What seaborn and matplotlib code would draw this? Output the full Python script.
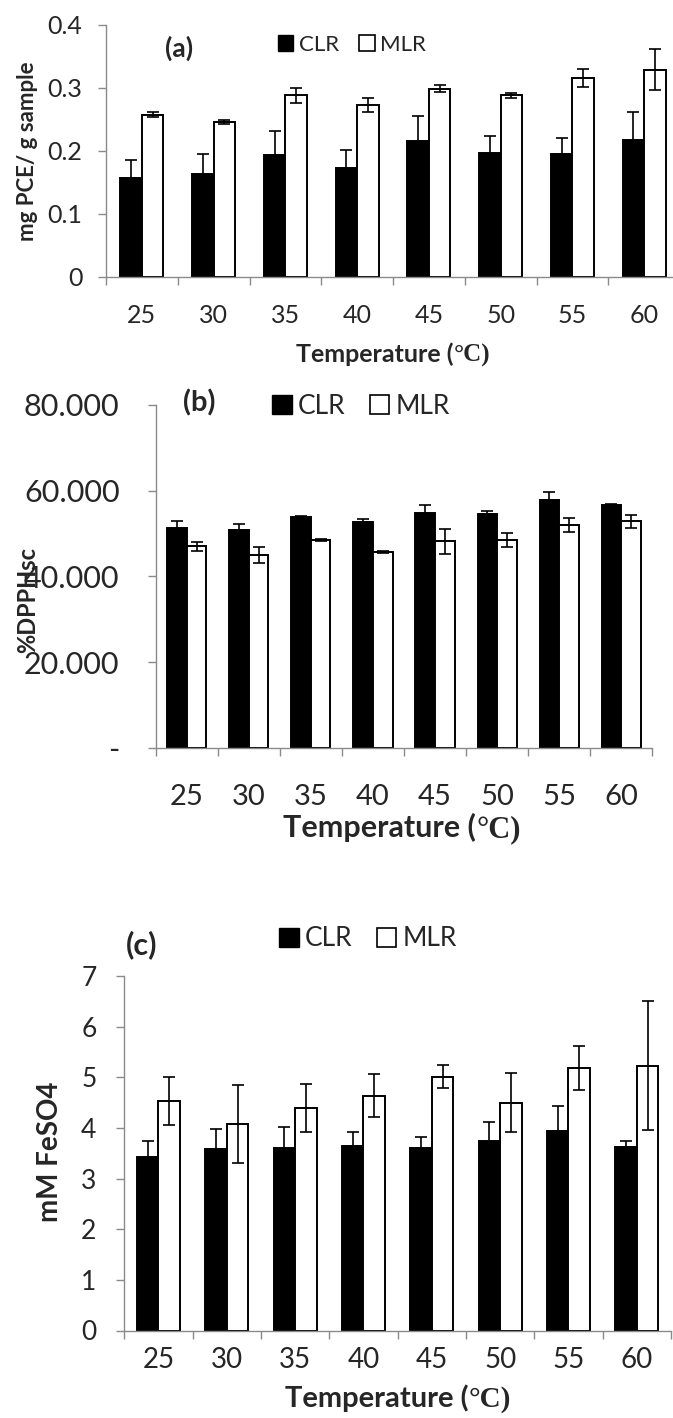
import numpy as np
import pandas as pd
import matplotlib
matplotlib.use("Agg")
import matplotlib.pyplot as plt
from matplotlib.patches import Patch
import seaborn as sns

# ---------------- data ----------------
temps = ["25", "30", "35", "40", "45", "50", "55", "60"]
samples = ["CLR", "MLR"]

# (a) total phenolics, mg PCE / g sample
tpc_clr = [0.157, 0.164, 0.194, 0.172, 0.216, 0.197, 0.195, 0.218]
tpc_clr_err = [0.028, 0.031, 0.038, 0.029, 0.040, 0.026, 0.026, 0.044]
tpc_mlr = [0.257, 0.246, 0.288, 0.273, 0.299, 0.288, 0.316, 0.329]
tpc_mlr_err = [0.004, 0.003, 0.012, 0.011, 0.006, 0.0045, 0.014, 0.033]

# (b) DPPH scavenging, %
dpph_clr = [51.2, 50.8, 53.8, 52.6, 54.9, 54.6, 57.8, 56.7]
dpph_clr_err = [1.8, 1.4, 0.2, 0.9, 1.8, 0.7, 1.8, 0.1]
dpph_mlr = [47.0, 45.0, 48.5, 45.7, 48.2, 48.5, 52.0, 52.9]
dpph_mlr_err = [1.0, 1.95, 0.15, 0.2, 2.95, 1.65, 1.55, 1.55]

# (c) FRAP, mM FeSO4
frap_clr = [3.43, 3.58, 3.61, 3.64, 3.60, 3.75, 3.94, 3.63]
frap_clr_err = [0.32, 0.40, 0.41, 0.28, 0.22, 0.36, 0.49, 0.12]
frap_mlr = [4.53, 4.08, 4.39, 4.64, 5.01, 4.50, 5.18, 5.23]
frap_mlr_err = [0.48, 0.77, 0.47, 0.42, 0.23, 0.58, 0.43, 1.27]

# ---------------- style ----------------
sns.set_style("white")
plt.rcParams["font.family"] = ["Lato", "DejaVu Sans"]

W, H = 673, 1418
fig = plt.figure(figsize=(W / 100, H / 100), dpi=100)
fig.patch.set_facecolor("white")

GREY = "#8a8a8a"
SANS = ["Lato", "DejaVu Sans"]
SERIF = ["Liberation Serif", "DejaVu Serif"]


def px_rect(left, right, top, bottom):
    return [left / W, 1 - bottom / H, (right - left) / W, (bottom - top) / H]


def fx(x):
    return x / W


def fy(y):
    return 1 - y / H


def long_frame(clr, mlr):
    return pd.DataFrame({
        "temp": temps * 2,
        "sample": ["CLR"] * len(temps) + ["MLR"] * len(temps),
        "value": list(clr) + list(mlr),
    })


def panel(rect, clr, clr_err, mlr, mlr_err, ylim, yticks, ylabels,
          ytick_fs, ytick_pad, xtick_fs, xtick_pad, width):
    ax = fig.add_axes(rect)
    df = long_frame(clr, mlr)
    sns.barplot(data=df, x="temp", y="value", hue="sample",
                order=temps, hue_order=samples,
                palette={"CLR": "black", "MLR": "white"},
                edgecolor="black", linewidth=1.4, width=width,
                saturation=1, errorbar=None, legend=False, ax=ax)
    for cont, err in zip(ax.containers, [clr_err, mlr_err]):
        xs = [b.get_x() + b.get_width() / 2 for b in cont]
        ys = [b.get_height() for b in cont]
        ax.errorbar(xs, ys, yerr=err, fmt="none", ecolor="black",
                    elinewidth=1.2, capsize=4, capthick=1.2, zorder=5)
    ax.set_xlim(-0.5, len(temps) - 0.5)
    ax.set_ylim(*ylim)
    ax.set_yticks(yticks)
    ax.set_yticklabels(ylabels, fontsize=ytick_fs)
    ax.set_xticks(range(len(temps)))
    ax.set_xticklabels(temps, fontsize=xtick_fs)
    ax.set_xticks(np.arange(-0.5, len(temps), 1), minor=True)
    ax.tick_params(axis="x", which="major", length=0, pad=xtick_pad)
    ax.tick_params(axis="x", which="minor", length=6, width=1, color=GREY,
                   direction="out", bottom=True)
    ax.tick_params(axis="y", which="major", length=6, width=1, color=GREY,
                   direction="out", left=True, pad=ytick_pad)
    for s in ["top", "right"]:
        ax.spines[s].set_visible(False)
    for s in ["left", "bottom"]:
        ax.spines[s].set_color(GREY)
        ax.spines[s].set_linewidth(1.0)
    ax.set_xlabel("")
    ax.set_ylabel("")
    ax.set_facecolor("white")
    return ax


def temp_label(xc, yc, size):
    t1 = fig.text(0, 0, "Temperature (", fontsize=size, fontweight="bold",
                  family=SANS, va="baseline", ha="left")
    t2 = fig.text(0, 0, "°C)", fontsize=size, fontweight="bold",
                  family=SERIF, va="baseline", ha="left")
    r = fig.canvas.get_renderer()
    w1 = t1.get_window_extent(r).width
    w2 = t2.get_window_extent(r).width
    x0 = xc - (w1 + w2) / 2
    base = yc + size * 100 / 72 * 0.36
    t1.set_position((fx(x0), fy(base)))
    t2.set_position((fx(x0 + w1), fy(base)))


def legend(xc, yc, size, hl):
    handles = [Patch(facecolor="black", edgecolor="black", linewidth=1),
               Patch(facecolor="white", edgecolor="black", linewidth=1.2)]
    fig.legend(handles, samples, loc="center", bbox_to_anchor=(fx(xc), fy(yc)),
               ncol=2, frameon=False, fontsize=size, handlelength=hl,
               handleheight=hl, handletextpad=0.25, columnspacing=0.9,
               borderpad=0, borderaxespad=0)


# ---------------- (a) ----------------
panel(px_rect(106, 680, 25, 276.7), tpc_clr, tpc_clr_err, tpc_mlr, tpc_mlr_err,
      (0, 0.4), [0, 0.1, 0.2, 0.3, 0.4], ["0", "0.1", "0.2", "0.3", "0.4"],
      18, 11, 18, 20, 0.6)
fig.text(fx(27), fy(151), "mg PCE/ g sample", rotation=90, fontsize=16,
         fontweight="bold", ha="center", va="center")
fig.text(fx(179), fy(48), "(a)", fontsize=19, fontweight="bold",
         ha="center", va="center")
legend(352, 45, 16, 0.7)
temp_label(393, 353, 18)

# ---------------- (b) ----------------
panel(px_rect(155.7, 652.3, 405, 748), dpph_clr, dpph_clr_err, dpph_mlr,
      dpph_mlr_err, (0, 80), [0, 20, 40, 60, 80],
      ["-", "20.000", "40.000", "60.000", "80.000"],
      22, 20, 21, 26, 0.63)
fig.text(fx(28), fy(600), "%DPPHsc", rotation=90, fontsize=17,
         fontweight="bold", ha="center", va="center")
fig.text(fx(199), fy(403), "(b)", fontsize=21, fontweight="bold",
         ha="center", va="center")
legend(361, 406, 19, 0.75)
temp_label(402, 826, 22)

# ---------------- (c) ----------------
panel(px_rect(124.3, 671, 976, 1330.5), frap_clr, frap_clr_err, frap_mlr,
      frap_mlr_err, (0, 7), list(range(8)), [str(i) for i in range(8)],
      19, 14, 20, 12, 0.63)
fig.text(fx(50), fy(1152), "mM FeSO4", rotation=90, fontsize=20,
         fontweight="bold", ha="center", va="center")
fig.text(fx(142), fy(945), "(c)", fontsize=22, fontweight="bold",
         ha="center", va="center")
legend(368, 939, 19, 0.75)
temp_label(398, 1396, 21)

fig.savefig("out.png", dpi=100, facecolor="white")
